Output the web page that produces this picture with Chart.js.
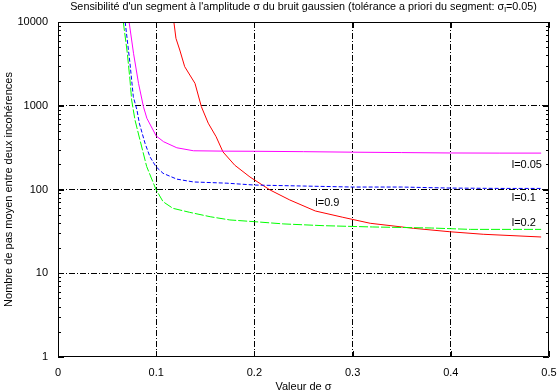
<!DOCTYPE html>
<html>
<head>
<meta charset="utf-8">
<script src="https://cdn.jsdelivr.net/npm/chart.js@4.4.0/dist/chart.umd.min.js"></script>
<style>
html, body { margin: 0; padding: 0; background: #fff; }
</style>
</head>
<body>
<canvas id="graphe" width="557" height="391"></canvas>
<script>
// valeurs (sigma du bruit -> nombre de pas moyen)
const sigma005 = [0.0724, 0.0769, 0.082, 0.087, 0.0905, 0.1, 0.1075, 0.121, 0.138, 0.17, 0.2, 0.25, 0.3, 0.35, 0.4, 0.45, 0.492];
const pas005   = [10000, 4230, 1850, 975, 708, 436, 372, 315, 290, 287, 286, 283, 279, 276, 273, 272, 272];

const sigma01 = [0.0684, 0.0733, 0.0767, 0.0804, 0.0828, 0.0886, 0.0937, 0.0998, 0.107, 0.121, 0.138, 0.172, 0.2, 0.25, 0.3, 0.35, 0.4, 0.45, 0.492];
const pas01   = [10000, 3210, 1280, 890, 620, 357, 245, 187, 156, 133, 123, 119, 113, 110, 107, 107, 104, 103, 103];

const sigma02 = [0.0665, 0.0706, 0.0733, 0.075, 0.0784, 0.0835, 0.0903, 0.0998, 0.107, 0.117, 0.134, 0.155, 0.175, 0.2, 0.23, 0.27, 0.32, 0.38, 0.42, 0.492];
const pas02   = [10000, 4230, 2030, 1170, 676, 389, 188, 100, 71.5, 59.6, 53.4, 47.3, 43.3, 41.3, 38.8, 37, 35.7, 34.7, 33.4, 33.4];

const sigma09 = [0.118, 0.1201, 0.124, 0.129, 0.1395, 0.146, 0.153, 0.161, 0.168, 0.18, 0.1955, 0.216, 0.236, 0.262, 0.29, 0.318, 0.362, 0.399, 0.433, 0.492];
const pas09   = [10000, 6380, 4630, 2930, 1850, 975, 619, 427, 281, 195, 141, 98.6, 75, 55.4, 46.6, 39.5, 34.4, 31.3, 29.2, 27.1];

// étiquettes des courbes (position en coordonnées des données)
const etiquettes = ['l=0.05', 'l=0.1', 'l=0.2', 'l=0.9'];
const etiqSigma  = [0.462, 0.462, 0.462, 0.262];
const etiqPas    = [195, 79, 40, 69];

const decades = [1, 10, 100, 1000, 10000];
const police = '"Liberation Sans", Arial, sans-serif';

function points(xs, ys) {
    return xs.map((x, i) => ({ x: x, y: ys[i] }));
}

// cadre, petites graduations, titre et étiquettes, façon gnuplot
const cadre = {
    id: 'cadre',
    afterDatasetsDraw(chart) {
        const ctx = chart.ctx;
        const a = chart.chartArea;
        const sx = chart.scales.x;
        const sy = chart.scales.y;
        ctx.save();
        ctx.strokeStyle = '#000';
        ctx.lineWidth = 1;
        ctx.beginPath();
        ctx.rect(a.left + 0.5, a.top + 0.5, a.right - a.left - 1, a.bottom - a.top - 1);
        ctx.stroke();
        ctx.beginPath();
        [0, 0.1, 0.2, 0.3, 0.4, 0.5].forEach(v => {
            const px = Math.round(sx.getPixelForValue(v)) + 0.5;
            ctx.moveTo(px, a.bottom); ctx.lineTo(px, a.bottom - 6);
            ctx.moveTo(px, a.top); ctx.lineTo(px, a.top + 6);
        });
        for (let d = 1; d < 10000; d *= 10) {
            for (let k = 1; k <= 10; k++) {
                const py = Math.round(sy.getPixelForValue(d * k)) + 0.5;
                const len = (k === 1 || k === 10) ? 6 : 3;
                ctx.moveTo(a.left, py); ctx.lineTo(a.left + len, py);
                ctx.moveTo(a.right, py); ctx.lineTo(a.right - len, py);
            }
        }
        ctx.stroke();

        // étiquettes des courbes
        ctx.fillStyle = '#000';
        ctx.font = '11px ' + police;
        ctx.textBaseline = 'middle';
        ctx.textAlign = 'left';
        etiquettes.forEach((t, i) => {
            ctx.fillText(t, sx.getPixelForValue(etiqSigma[i]), sy.getPixelForValue(etiqPas[i]));
        });

        // titre avec indice
        const t1 = "Sensibilité d'un segment à l'amplitude σ du bruit gaussien (tolérance a priori du segment: σ";
        const t2 = '=0.05)';
        const f = '10.8px ' + police;
        const fs = '8px ' + police;
        ctx.font = f;
        const w1 = ctx.measureText(t1).width;
        const w2 = ctx.measureText(t2).width;
        ctx.font = fs;
        const ws = ctx.measureText('l').width;
        let x = (a.left + a.right) / 2 - (w1 + ws + w2) / 2;
        const y = 7;
        ctx.font = f;
        ctx.fillText(t1, x, y);
        x += w1;
        ctx.font = fs;
        ctx.fillText('l', x, y + 3);
        x += ws;
        ctx.font = f;
        ctx.fillText(t2, x, y);
        ctx.restore();
    }
};

const graphe = new Chart(document.getElementById('graphe').getContext('2d'), {
    type: 'line',
    data: {
        datasets: [
            { label: 'l=0.05', data: points(sigma005, pas005), borderColor: '#ff00ff' },
            { label: 'l=0.1', data: points(sigma01, pas01), borderColor: '#0000ff', borderDash: [4, 2] },
            { label: 'l=0.2', data: points(sigma02, pas02), borderColor: '#00ff00', borderDash: [9, 2] },
            { label: 'l=0.9', data: points(sigma09, pas09), borderColor: '#ff0000' }
        ]
    },
    options: {
        responsive: false,
        animation: false,
        devicePixelRatio: 1,
        layout: { padding: { top: 22, right: 0, left: 0, bottom: 0 } },
        elements: {
            line: { borderWidth: 1, tension: 0, fill: false },
            point: { radius: 0 }
        },
        plugins: {
            legend: { display: false },
            tooltip: { enabled: false }
        },
        scales: {
            x: {
                type: 'linear',
                min: 0,
                max: 0.5,
                afterFit: s => { s.height = 34; s.paddingRight = 8; },
                border: { display: false, dash: [6, 2, 1, 2] },
                grid: {
                    drawTicks: false,
                    color: c => (c.tick && c.tick.value > 0.05 && c.tick.value < 0.45) ? '#000' : 'rgba(0,0,0,0)'
                },
                ticks: {
                    stepSize: 0.1,
                    padding: 9,
                    color: '#000',
                    font: { family: police, size: 11 },
                    callback: v => Number(v.toFixed(1)).toString()
                },
                title: {
                    display: true,
                    text: 'Valeur de σ',
                    color: '#000',
                    font: { family: police, size: 11, lineHeight: 1 },
                    padding: { top: 0, bottom: -1 }
                }
            },
            y: {
                type: 'logarithmic',
                min: 1,
                max: 10000,
                afterFit: s => { s.width = 58; },
                border: { display: false, dash: [6, 2, 1, 2] },
                grid: {
                    drawTicks: false,
                    color: c => (c.tick && [10, 100, 1000].includes(c.tick.value)) ? '#000' : 'rgba(0,0,0,0)'
                },
                ticks: {
                    autoSkip: false,
                    padding: 10,
                    color: '#000',
                    font: { family: police, size: 11 },
                    callback: v => decades.includes(v) ? String(v) : ''
                },
                title: {
                    display: true,
                    text: 'Nombre de pas moyen entre deux incohérences',
                    color: '#000',
                    font: { family: police, size: 11, lineHeight: 1 },
                    padding: { top: 3, bottom: 0 }
                }
            }
        }
    },
    plugins: [cadre]
});
</script>
</body>
</html>
